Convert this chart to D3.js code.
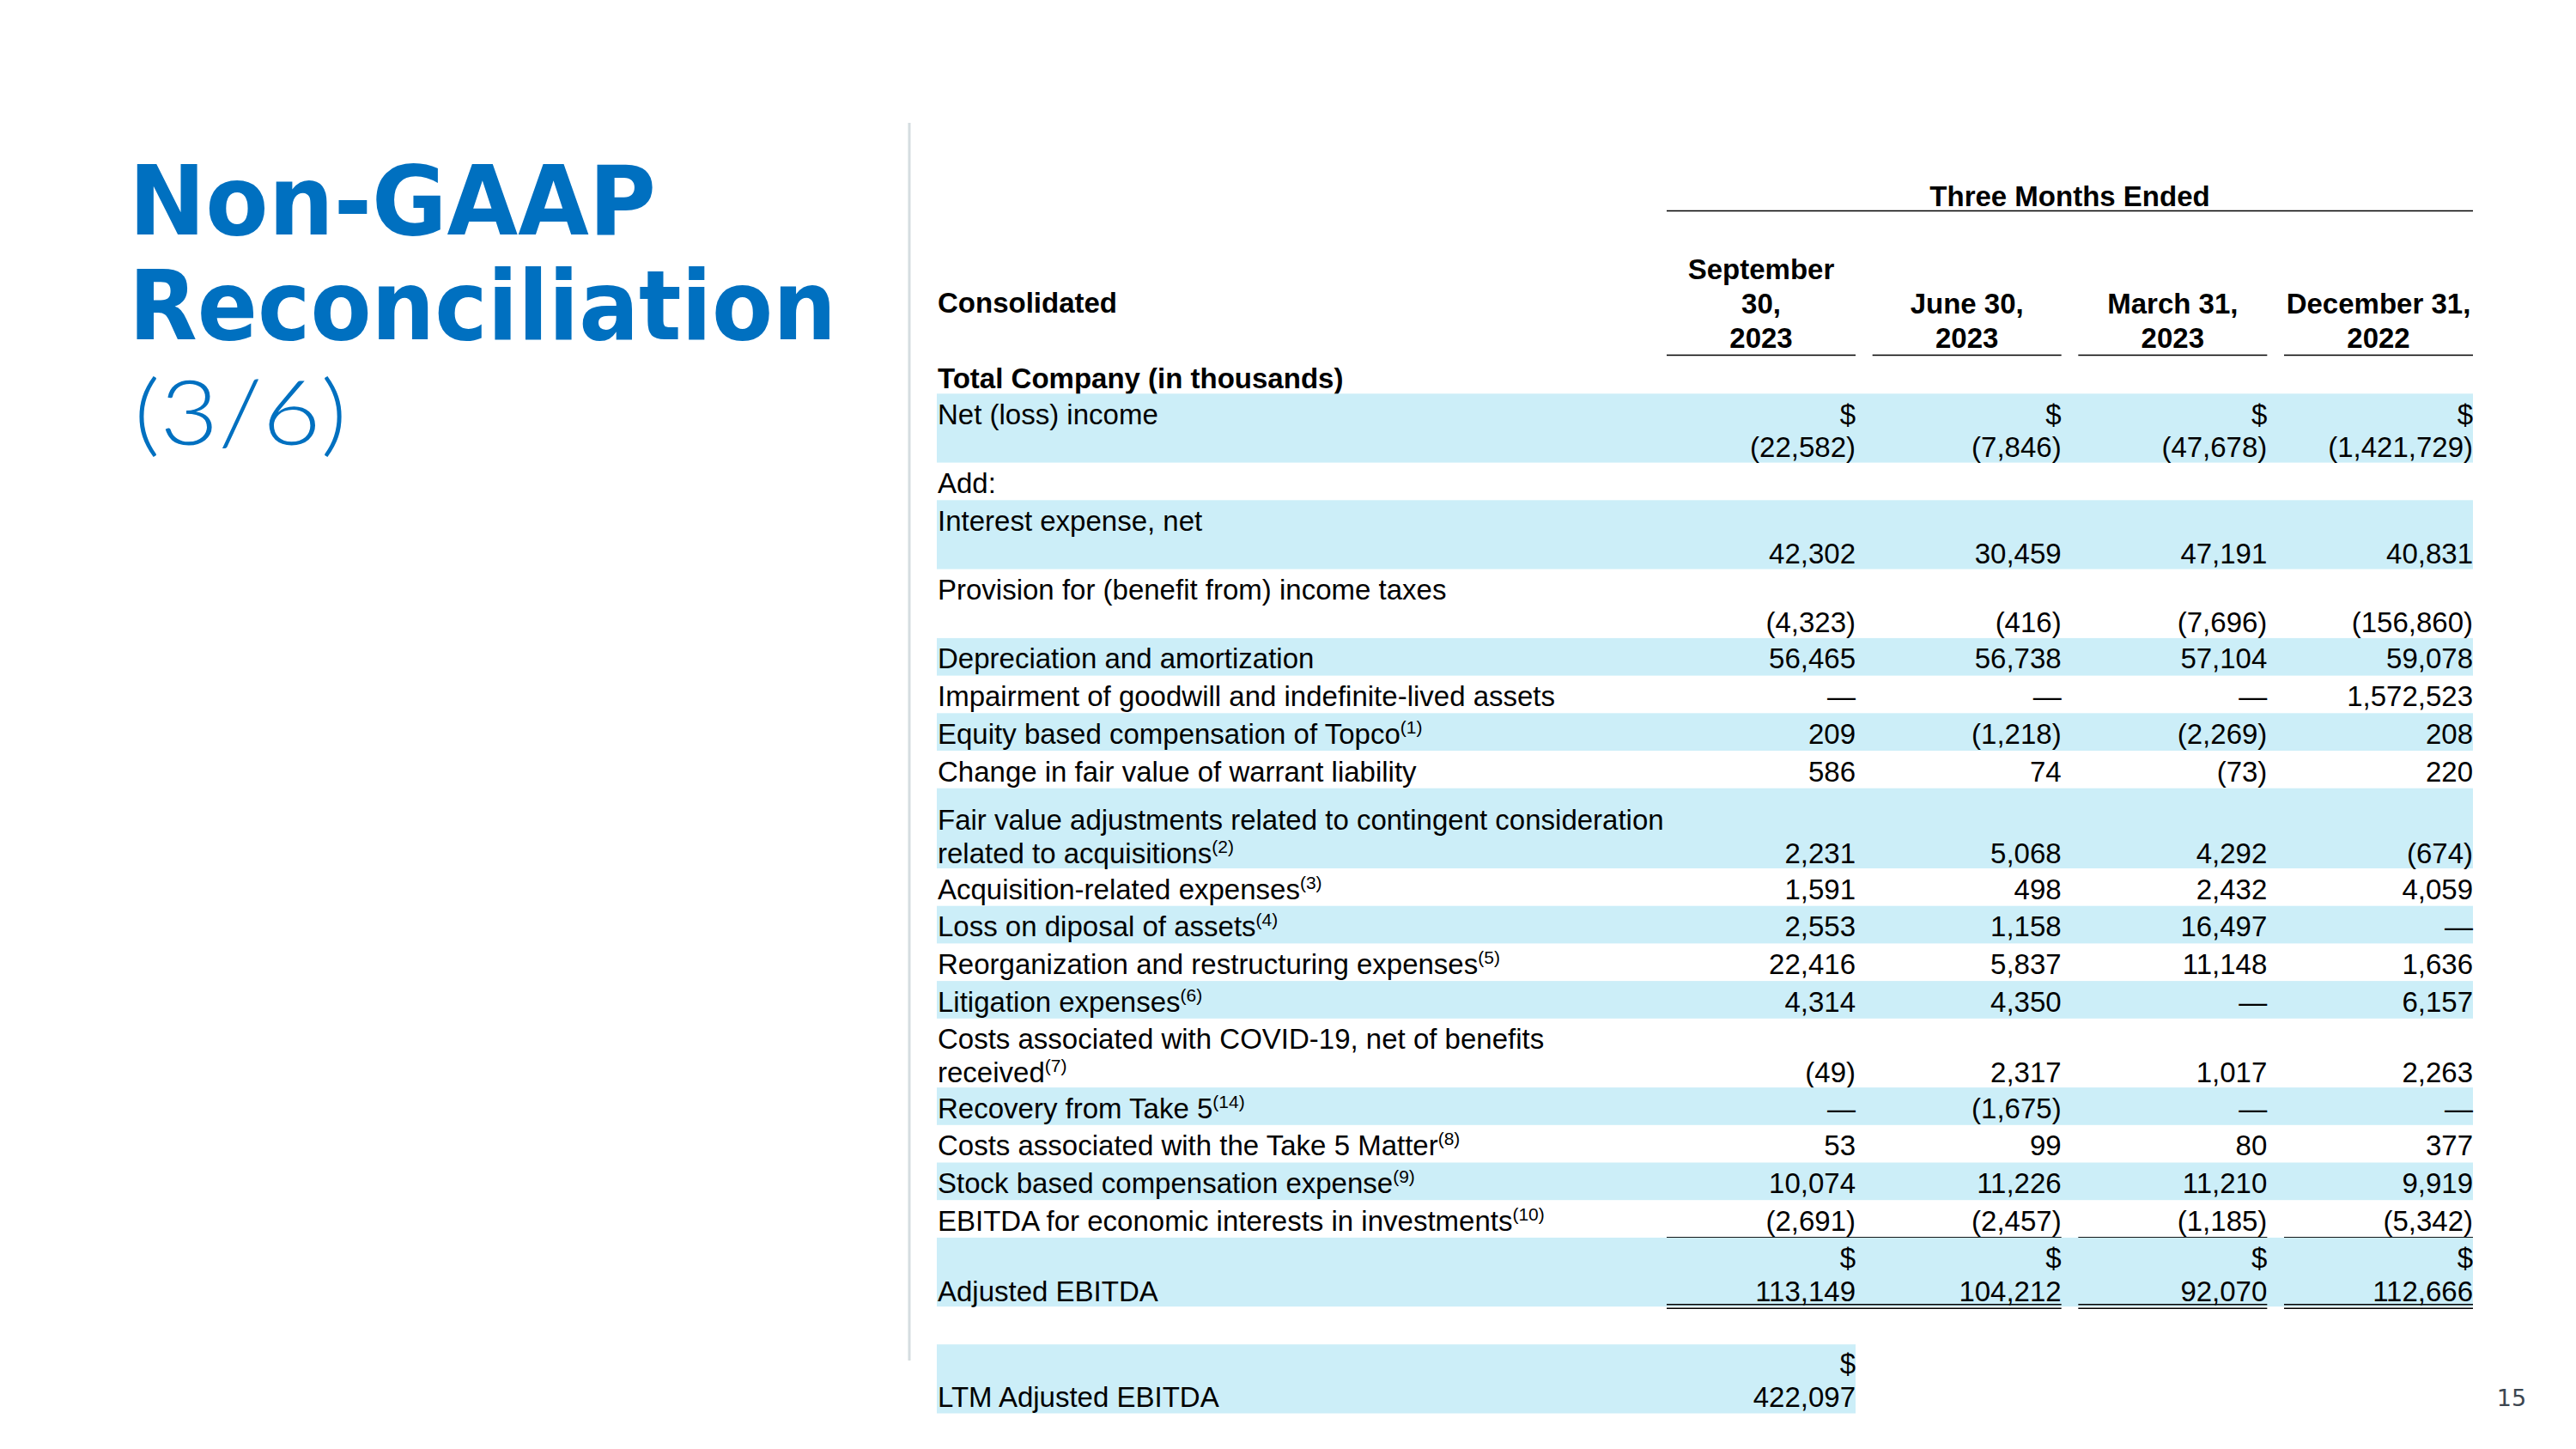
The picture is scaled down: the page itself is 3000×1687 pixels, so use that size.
<!DOCTYPE html>
<html>
<head>
<meta charset="utf-8">
<script src="https://cdn.jsdelivr.net/npm/d3@7"></script>
<style>
  html, body { margin: 0; padding: 0; background: #ffffff; }
  svg { display: block; }
</style>
</head>
<body>
<svg id="chart" width="3000" height="1687"></svg>
<script>
// ---------------- DATA ----------------
const titleLines = ["Non-GAAP", "Reconciliation", "(3/6)"];
const groupHeader = "Three Months Ended";
const stubHeader = "Consolidated";
const sectionHeader = "Total Company (in thousands)";
const columnHeaders = [["September", "30,", "2023"], ["June 30,", "2023"], ["March 31,", "2023"], ["December 31,", "2022"]];
const rowLabels = [
  "Net (loss) income",
  "Interest expense, net",
  "Provision for (benefit from) income taxes",
  "Depreciation and amortization",
  "Impairment of goodwill and indefinite-lived assets",
  "Equity based compensation of Topco",
  "Change in fair value of warrant liability",
  "Fair value adjustments related to contingent consideration|related to acquisitions",
  "Acquisition-related expenses",
  "Loss on diposal of assets",
  "Reorganization and restructuring expenses",
  "Litigation expenses",
  "Costs associated with COVID-19, net of benefits|received",
  "Recovery from Take 5",
  "Costs associated with the Take 5 Matter",
  "Stock based compensation expense",
  "EBITDA for economic interests in investments",
  "Adjusted EBITDA"
];
const rowNotes = ["", "", "", "", "", "(1)", "", "(2)", "(3)", "(4)", "(5)", "(6)", "(7)", "(14)", "(8)", "(9)", "(10)", ""];
// null = em dash
const sep2023 = [-22582, 42302, -4323, 56465, null, 209, 586, 2231, 1591, 2553, 22416, 4314, -49, null, 53, 10074, -2691, 113149];
const jun2023 = [-7846, 30459, -416, 56738, null, -1218, 74, 5068, 498, 1158, 5837, 4350, 2317, -1675, 99, 11226, -2457, 104212];
const mar2023 = [-47678, 47191, -7696, 57104, null, -2269, -73, 4292, 2432, 16497, 11148, null, 1017, null, 80, 11210, -1185, 92070];
const dec2022 = [-1421729, 40831, -156860, 59078, 1572523, 208, 220, -674, 4059, null, 1636, 6157, 2263, null, 377, 9919, -5342, 112666];
const addLabel = "Add:";
const ltmLabel = "LTM Adjusted EBITDA";
const ltmValue = 422097;
const pageNumber = "15";

// ---------------- LAYOUT ----------------
const svg = d3.select("#chart");
const BLUE = "#0070C0";
const BAND = "#CCEEF8";
const FONT = "'Liberation Sans', Arial, Helvetica, sans-serif";
const FS = 33;
const BASE = 12;           // centre -> baseline offset
const tableLeft = 1092, tableRight = 2880;
const columnValues = [sep2023, jun2023, mar2023, dec2022];

const x = d3.scaleBand().domain(d3.range(4)).range([1941, 2880]).paddingInner(0.082).paddingOuter(0);

const fmt = d3.format(",");
const fmtVal = v => v === null ? "\u2014" : (v < 0 ? "(" + fmt(-v) + ")" : fmt(v));

// Title
const titleG = svg.append("g").attr("fill", BLUE);
titleG.append("text").attr("x", 150).attr("y", 273)
  .attr("font-family", "'DejaVu Sans', sans-serif").attr("font-weight", 700).attr("font-size", 112)
  .attr("textLength", 614).attr("lengthAdjust", "spacingAndGlyphs").text(titleLines[0]);
titleG.append("text").attr("x", 150).attr("y", 395)
  .attr("font-family", "'DejaVu Sans', sans-serif").attr("font-weight", 700).attr("font-size", 112)
  .attr("textLength", 824).attr("lengthAdjust", "spacingAndGlyphs").text(titleLines[1]);
titleG.append("text").attr("x", 156).attr("y", 518)
  .attr("font-family", "Lato, 'DejaVu Sans', sans-serif").attr("font-weight", 300).attr("font-size", 104)
  .attr("textLength", 248).attr("lengthAdjust", "spacingAndGlyphs").text(titleLines[2]);

// divider
svg.append("line").attr("x1", 1059).attr("x2", 1059).attr("y1", 143).attr("y2", 1584)
  .attr("stroke", "#D5DDE0").attr("stroke-width", 3);

// page number
svg.append("text").attr("x", 2925).attr("y", 1637).attr("text-anchor", "middle")
  .attr("font-family", "'DejaVu Sans', sans-serif").attr("font-size", 27).attr("fill", "#3C4650").text(pageNumber);

const tg = svg.append("g").attr("font-family", FONT).attr("font-size", FS).attr("fill", "#000");

// Header
tg.append("text").attr("x", (x(0) + x(3) + x.bandwidth()) / 2).attr("y", 228 + BASE)
  .attr("text-anchor", "middle").attr("font-weight", 700).text(groupHeader);
tg.append("line").attr("x1", x(0)).attr("x2", x(3) + x.bandwidth()).attr("y1", 245.5).attr("y2", 245.5)
  .attr("stroke", "#000").attr("stroke-width", 1.6);
tg.append("text").attr("x", tableLeft).attr("y", 352 + BASE).attr("font-weight", 700).text(stubHeader);
columnHeaders.forEach((lines, i) => {
  const lastY = 393;
  lines.forEach((ln, j) => {
    tg.append("text").attr("x", x(i) + x.bandwidth() / 2)
      .attr("y", lastY - (lines.length - 1 - j) * 40 + BASE)
      .attr("text-anchor", "middle").attr("font-weight", 700).text(ln);
  });
  tg.append("line").attr("x1", x(i)).attr("x2", x(i) + x.bandwidth()).attr("y1", 413.5).attr("y2", 413.5)
    .attr("stroke", "#000").attr("stroke-width", 1.6);
});
tg.append("text").attr("x", tableLeft).attr("y", 440 + BASE).attr("font-weight", 700).text(sectionHeader);

// Build rows
const SINGLE = 43.7, DOUBLE = 80.3, LINE = 38.3, FIRST = 23.5;
const twoLineRows = new Set([0, 1, 2, 7, 12, 17]);
const dollarRows = new Set([0, 17]);
const extraTop = {7: 13};
const rows = [];
rowLabels.forEach((lab, i) => {
  rows.push({type: "data", i});
  if (i === 0) rows.push({type: "add"});
});

let y = 458.3;
let bandOn = true;
const rowG = tg.append("g");
rows.forEach(r => {
  const isTwo = r.type === "data" && twoLineRows.has(r.i);
  const pad = r.type === "data" && extraTop[r.i] ? extraTop[r.i] : 0;
  const h = (isTwo ? DOUBLE : SINGLE) + pad;
  if (bandOn) {
    rowG.append("rect").attr("x", tableLeft - 1).attr("y", y).attr("width", tableRight - tableLeft + 1)
      .attr("height", h).attr("fill", BAND);
  }
  const l1 = y + pad + FIRST, l2 = l1 + LINE;
  if (r.type === "add") {
    rowG.append("text").attr("x", tableLeft).attr("y", l1 + BASE).text(addLabel);
  } else {
    const i = r.i;
    const parts = rowLabels[i].split("|");
    let labelStart = (i === 17) ? l2 : l1;
    parts.forEach((p, k) => {
      const t = rowG.append("text").attr("x", tableLeft).attr("y", labelStart + k * LINE + BASE);
      t.append("tspan").text(p);
      if (k === parts.length - 1 && rowNotes[i]) {
        t.append("tspan").attr("font-size", 21).attr("dy", -12).text(rowNotes[i]);
      }
    });
    const valY = isTwo ? l2 : l1;
    columnValues.forEach((arr, c) => {
      const xr = x(c) + x.bandwidth();
      if (dollarRows.has(i)) {
        rowG.append("text").attr("x", xr).attr("y", l1 + BASE).attr("text-anchor", "end").text("$");
      }
      rowG.append("text").attr("x", xr).attr("y", valY + BASE).attr("text-anchor", "end").text(fmtVal(arr[i]));
    });
    if (i === 16) {
      // single underline under EBITDA for economic interests
      [[x(0), x(1) + x.bandwidth()], [x(2), x(2) + x.bandwidth()], [x(3), x(3) + x.bandwidth()]].forEach(([a, b]) => {
        rowG.append("line").attr("x1", a).attr("x2", b).attr("y1", y + h).attr("y2", y + h)
          .attr("stroke", "#000").attr("stroke-width", 1.6);
      });
    }
    if (i === 17) {
      [[x(0), x(1) + x.bandwidth()], [x(2), x(2) + x.bandwidth()], [x(3), x(3) + x.bandwidth()]].forEach(([a, b]) => {
        [y + h - 2.5, y + h + 2].forEach(yy => {
          rowG.append("line").attr("x1", a).attr("x2", b).attr("y1", yy).attr("y2", yy)
            .attr("stroke", "#000").attr("stroke-width", 1.6);
        });
      });
    }
  }
  y += h;
  bandOn = !bandOn;
});

// LTM row
y += 44;
rowG.append("rect").attr("x", tableLeft - 1).attr("y", y).attr("width", x(0) + x.bandwidth() - tableLeft + 1)
  .attr("height", DOUBLE).attr("fill", BAND);
rowG.append("text").attr("x", x(0) + x.bandwidth()).attr("y", y + 22 + BASE).attr("text-anchor", "end").text("$");
rowG.append("text").attr("x", x(0) + x.bandwidth()).attr("y", y + 61 + BASE).attr("text-anchor", "end").text(fmtVal(ltmValue));
rowG.append("text").attr("x", tableLeft).attr("y", y + 61 + BASE).text(ltmLabel);
</script>
</body>
</html>
